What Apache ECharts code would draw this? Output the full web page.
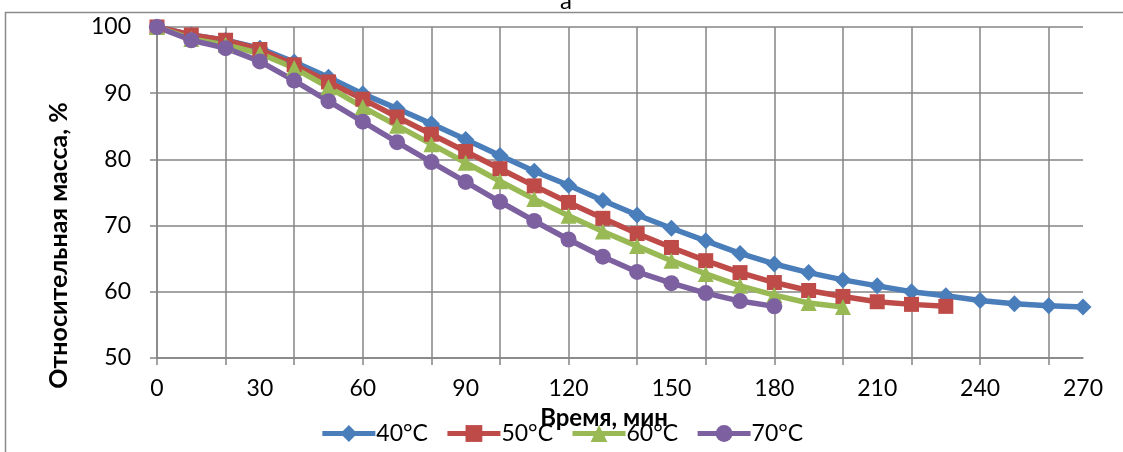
<!DOCTYPE html>
<html>
<head>
<meta charset="utf-8">
<script src="https://cdn.jsdelivr.net/npm/echarts@6/dist/echarts.min.js"></script>
<style>
html,body{margin:0;padding:0;background:#fff;}
#chart{width:1123px;height:452px;}
</style>
</head>
<body>
<div id="chart"></div>
<script>
var times = ['0','10','20','30','40','50','60','70','80','90','100','110','120','130','140','150','160','170','180','190','200','210','220','230','240','250','260','270'];
var s40 = [100, 98.8, 98.0, 96.8, 94.7, 92.4, 89.9, 87.7, 85.4, 83.0, 80.6, 78.2, 76.1, 73.8, 71.6, 69.6, 67.7, 65.8, 64.2, 62.9, 61.8, 60.9, 60.0, 59.4, 58.7, 58.2, 57.9, 57.7];
var s50 = [100, 98.8, 98.0, 96.6, 94.3, 91.7, 89.1, 86.4, 83.8, 81.2, 78.6, 76.0, 73.5, 71.1, 68.8, 66.7, 64.7, 62.9, 61.4, 60.2, 59.3, 58.5, 58.1, 57.8];
var s60 = [100, 98.2, 97.3, 96.0, 93.8, 90.9, 87.9, 85.1, 82.3, 79.5, 76.7, 74.0, 71.5, 69.1, 66.9, 64.7, 62.7, 60.9, 59.5, 58.3, 57.7];
var s70 = [100, 98.0, 96.8, 94.8, 91.9, 88.8, 85.7, 82.6, 79.6, 76.6, 73.6, 70.7, 67.9, 65.3, 63.0, 61.3, 59.8, 58.6, 57.8];
var seriesNames = ['40°C','50°C','60°C','70°C'];
var titleText = 'а';
var xName = 'Время, мин';
var yName = 'Относительная масса, %';

var FONT = 'Lato';
var GRID = '#858585';
var chart = echarts.init(document.getElementById('chart'), null, {renderer:'canvas'});

function mk(name, data, color, symbol, size){
  return {
    name: name, type: 'line', data: data, symbol: symbol, symbolSize: size,
    lineStyle: {color: color, width: 5.5},
    itemStyle: {color: color},
    emphasis: {disabled: true},
    animation: false
  };
}

chart.setOption({
  animation: false,
  textStyle: {fontFamily: FONT},
  title: {
    text: titleText, left: 555, top: -16,
    textStyle: {fontFamily: FONT, fontSize: 24, fontWeight: 'normal', color: '#000'}
  },
  graphic: [{
    type: 'rect', silent: true,
    shape: {x: 5.5, y: 12.5, width: 1200, height: 500},
    style: {fill: 'none', stroke: '#8a8a8a', lineWidth: 1.5}
  }],
  legend: {
    bottom: 2, left: 'center',
    itemWidth: 53, itemHeight: 21, itemGap: 17,
    lineStyle: {width: 5},
    textStyle: {fontFamily: FONT, fontSize: 23, color: '#000', padding: [0,0,0,-4]},
    data: seriesNames
  },
  grid: {left: 157, right: 40, top: 27, bottom: 94, containLabel: false},
  xAxis: {
    type: 'category', data: times, boundaryGap: false,
    name: xName, nameLocation: 'middle', nameGap: 48,
    nameTextStyle: {fontFamily: FONT, fontSize: 24, fontWeight: 'bold', color: '#000', padding: [0,32,0,0]},
    axisLine: {lineStyle: {color: GRID, width: 1.5}},
    axisTick: {show: true, length: 7, inside: false, alignWithLabel: true,
      interval: function(i){ return i % 2 === 0; },
      lineStyle: {color: GRID, width: 1.5}},
    axisLabel: {interval: function(i){ return i % 3 === 0; }, margin: 19,
      fontFamily: FONT, fontSize: 23, color: '#000'},
    splitLine: {show: true, interval: function(i){ return i % 2 === 0; },
      lineStyle: {color: GRID, width: 1.5}}
  },
  yAxis: {
    type: 'value', min: 50, max: 100, interval: 10,
    name: yName, nameLocation: 'middle', nameGap: 86, nameRotate: 90,
    nameTextStyle: {fontFamily: FONT, fontSize: 25, fontWeight: 'bold', color: '#000', padding: [0,106,0,0]},
    axisLine: {show: true, lineStyle: {color: GRID, width: 1.5}},
    axisTick: {show: true, length: 7, lineStyle: {color: GRID, width: 1.5}},
    axisLabel: {margin: 26, fontFamily: FONT, fontSize: 23, color: '#000'},
    splitLine: {show: true, lineStyle: {color: GRID, width: 1.5}}
  },
  series: [
    mk(seriesNames[0], s40, '#4A7EBB', 'diamond', 17),
    mk(seriesNames[1], s50, '#BE4B48', 'rect', 15),
    mk(seriesNames[2], s60, '#98B954', 'triangle', 16),
    mk(seriesNames[3], s70, '#7D60A0', 'circle', 16)
  ]
});
</script>
</body>
</html>
